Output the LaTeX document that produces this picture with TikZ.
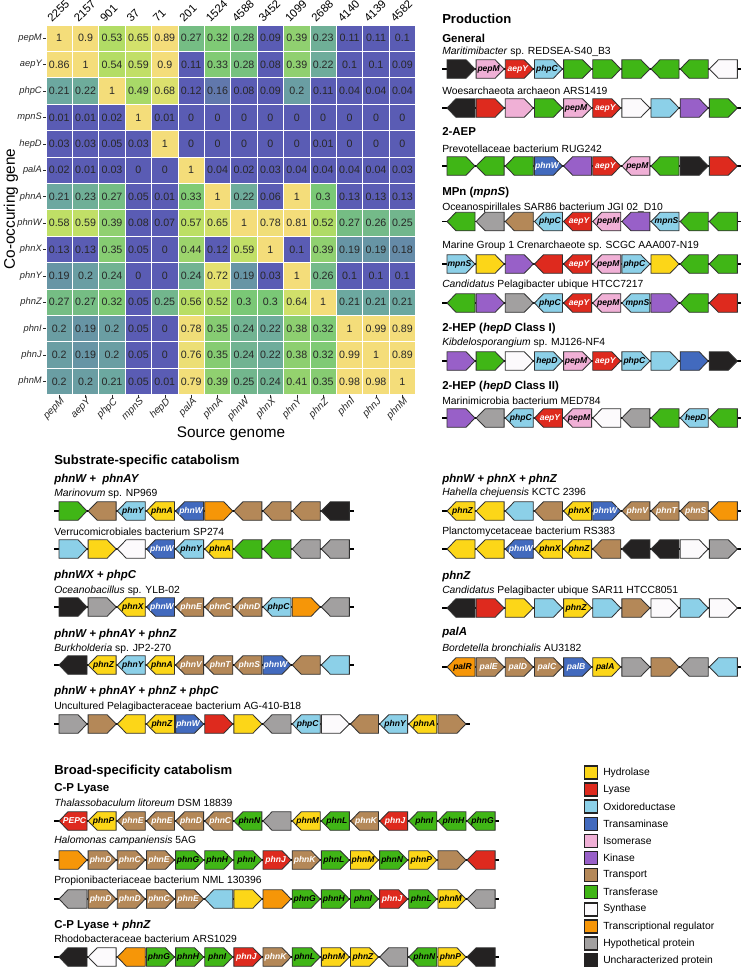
\documentclass[tikz,border=0pt]{standalone}
\usepackage{fontspec}
\setmainfont{Liberation Sans}
\usetikzlibrary{positioning}
\definecolor{hydc}{RGB}{252,214,24}
\definecolor{lysc}{RGB}{222,42,30}
\definecolor{oxrc}{RGB}{140,208,232}
\definecolor{tamc}{RGB}{66,106,190}
\definecolor{isoc}{RGB}{240,176,214}
\definecolor{kinc}{RGB}{152,96,200}
\definecolor{trpc}{RGB}{180,136,88}
\definecolor{trfc}{RGB}{64,182,22}
\definecolor{sync}{RGB}{252,250,252}
\definecolor{regc}{RGB}{246,150,8}
\definecolor{hypc}{RGB}{162,160,160}
\definecolor{uncc}{RGB}{36,34,34}
\definecolor{gline}{RGB}{50,50,50}
\definecolor{numtxt}{RGB}{40,40,40}
\definecolor{hmA}{RGB}{90,92,180}
\definecolor{hmB}{RGB}{108,168,160}
\definecolor{hmC}{RGB}{122,200,118}
\definecolor{hmD}{RGB}{182,222,100}
\definecolor{hmE}{RGB}{225,226,110}
\definecolor{hmF}{RGB}{244,221,122}

\newcommand{\gp}{29.15}
% heatmap colour of a value -> \hmc
\newcommand{\hmpick}[1]{%
  \pgfmathsetmacro{\hmv}{#1}%
  \ifdim\hmv pt<0.13pt \def\hmc{hmA}\else
  \ifdim\hmv pt<0.21pt \pgfmathsetmacro{\hmp}{(\hmv-0.13)/0.08*100}\edef\hmc{hmB!\hmp!hmA}\else
  \ifdim\hmv pt<0.3pt \pgfmathsetmacro{\hmp}{(\hmv-0.21)/0.09*100}\edef\hmc{hmC!\hmp!hmB}\else
  \ifdim\hmv pt<0.55pt \pgfmathsetmacro{\hmp}{(\hmv-0.3)/0.25*100}\edef\hmc{hmD!\hmp!hmC}\else
  \ifdim\hmv pt<0.7pt \pgfmathsetmacro{\hmp}{(\hmv-0.55)/0.15*100}\edef\hmc{hmE!\hmp!hmD}\else
  \ifdim\hmv pt<0.8pt \pgfmathsetmacro{\hmp}{(\hmv-0.7)/0.1*100}\edef\hmc{hmF!\hmp!hmE}\else
  \def\hmc{hmF}\fi\fi\fi\fi\fi\fi}
% one gene cluster: x0, y, number of genes, list dir/colour/label
\newcommand{\genes}[4]{%
  \draw[backbone] ({#1-5},#2) -- ({#1+#3*\gp+3},#2);
  \foreach \gdir/\gcol/\gtxt [count=\gi from 0] in {#4}{
    \begin{scope}[shift={({#1+\gi*\gp+14},#2)}, xscale=\gdir]
      \path[gene,\gcol] (-14,-9.25) -- (5,-9.25) -- (14,0) -- (5,9.25) -- (-14,9.25) -- cycle;
      \node[genelab,\gcol,fill=none] at (-1.5,0) {\gtxt};
    \end{scope}
  }}

\begin{document}
\begin{tikzpicture}[x=0.75pt,y=-0.75pt,
  tit/.style={anchor=west,inner sep=0,font=\fontsize{9.8}{11}\selectfont\bfseries},
  sub/.style={anchor=west,inner sep=0,font=\fontsize{8.6}{10}\selectfont\bfseries},
  spc/.style={anchor=west,inner sep=0,font=\fontsize{7.75}{9}\selectfont},
  gene/.style={draw=gline,line width=0.65pt,line join=miter},
  genelab/.style={inner sep=0,text=black,font=\fontsize{6.4}{7}\selectfont\bfseries\itshape},
  backbone/.style={draw=black,line width=0.9pt},
  hyd/.style={fill=hydc}, lys/.style={fill=lysc,text=white},
  oxr/.style={fill=oxrc}, tam/.style={fill=tamc,text=white},
  iso/.style={fill=isoc}, kin/.style={fill=kinc},
  trp/.style={fill=trpc,text=white}, trf/.style={fill=trfc},
  syn/.style={fill=sync}, reg/.style={fill=regc},
  hyp/.style={fill=hypc}, unc/.style={fill=uncc,text=white},
  cellnum/.style={inner sep=0,text=numtxt,font=\fontsize{8}{9}\selectfont},
  rowlab/.style={anchor=east,inner sep=0,text=numtxt,font=\fontsize{7}{8}\selectfont\itshape},
  collab/.style={anchor=east,rotate=45,inner sep=0,text=numtxt,font=\fontsize{7.5}{8}\selectfont\itshape},
  cntlab/.style={anchor=west,rotate=45,inner sep=0,font=\fontsize{8.5}{10}\selectfont},
  axlab/.style={inner sep=0,font=\fontsize{11.5}{13}\selectfont},
  tickline/.style={draw=numtxt,line width=0.4pt},
  gridline/.style={draw=white,line width=0.7pt},
  legbox/.style={draw=uncc,line width=1.1pt}]
\useasboundingbox (0,0) rectangle (741,967);

% heatmap
\foreach \hn/\hvals [count=\hr from 0] in {
  pepM/{1,0.9,0.53,0.65,0.89,0.27,0.32,0.28,0.09,0.39,0.23,0.11,0.11,0.1},
  aepY/{0.86,1,0.54,0.59,0.9,0.11,0.33,0.28,0.08,0.39,0.22,0.1,0.1,0.09},
  phpC/{0.21,0.22,1,0.49,0.68,0.12,0.16,0.08,0.09,0.2,0.11,0.04,0.04,0.04},
  mpnS/{0.01,0.01,0.02,1,0.01,0,0,0,0,0,0,0,0,0},
  hepD/{0.03,0.03,0.05,0.03,1,0,0,0,0,0,0.01,0,0,0},
  palA/{0.02,0.01,0.03,0,0,1,0.04,0.02,0.03,0.04,0.04,0.04,0.04,0.03},
  phnA/{0.21,0.23,0.27,0.05,0.01,0.33,1,0.22,0.06,1,0.3,0.13,0.13,0.13},
  phnW/{0.58,0.59,0.39,0.08,0.07,0.57,0.65,1,0.78,0.81,0.52,0.27,0.26,0.25},
  phnX/{0.13,0.13,0.35,0.05,0,0.44,0.12,0.59,1,0.1,0.39,0.19,0.19,0.18},
  phnY/{0.19,0.2,0.24,0,0,0.24,0.72,0.19,0.03,1,0.26,0.1,0.1,0.1},
  phnZ/{0.27,0.27,0.32,0.05,0.25,0.56,0.52,0.3,0.3,0.64,1,0.21,0.21,0.21},
  phnI/{0.2,0.19,0.2,0.05,0,0.78,0.35,0.24,0.22,0.38,0.32,1,0.99,0.89},
  phnJ/{0.2,0.19,0.2,0.05,0,0.76,0.35,0.24,0.22,0.38,0.32,0.99,1,0.89},
  phnM/{0.2,0.2,0.21,0.05,0.01,0.79,0.39,0.25,0.24,0.41,0.35,0.98,0.98,1}}{
  \node[rowlab] (row\hr) at (42,{25+(\hr+0.5)*26.4}) {\hn};
  \draw[tickline] (43,{25+(\hr+0.5)*26.4}) -- (46,{25+(\hr+0.5)*26.4});
  \foreach \hv [count=\hc from 0] in \hvals {
    \hmpick{\hv}
    \fill[fill=\hmc] ({46+\hc*26.4},{25+\hr*26.4}) rectangle ++(26.4,26.4);
    \node[cellnum] (cell\hr-\hc) at ({46+(\hc+0.5)*26.4},{25+(\hr+0.5)*26.4}) {\hv};
  }
}
\foreach \k in {0,...,14}{
  \draw[gridline] ({46+\k*26.4},25) -- ++(0,369.6);
  \draw[gridline] (46,{25+\k*26.4}) -- ++(369.6,0);
}
\foreach \hn/\hcnt [count=\hc from 0] in {pepM/2255,aepY/2157,phpC/901,mpnS/37,hepD/71,
  palA/201,phnA/1524,phnW/4588,phnX/3452,phnY/1099,phnZ/2688,phnI/4140,phnJ/4139,phnM/4582}{
  \draw[tickline] ({46+(\hc+0.5)*26.4},394.6) -- ++(0,3);
  \node[collab] (col\hc) at ({46+(\hc+0.5)*26.4+4},400) {\hn};
  \node[cntlab] (cnt\hc) at ({46+(\hc+0.5)*26.4-10},20) {\hcnt};
}
\node[axlab,rotate=90] (yax) at (11,209) {Co-occuring gene};
\node[axlab] (xax) at (231,434) {Source genome};

% production
\node[tit] (prod) at (442,19) {Production};
\node[sub] (gen) at (442,38) {General};
\node[spc] (mar) at (442,52) {\textit{Maritimibacter} sp. REDSEA-S40\_B3};
\genes{447}{69}{10}{1/unc/{},1/iso/pepM,1/lys/aepY,1/oxr/phpC,1/trf/{},1/trf/{},1/trf/{},-1/trf/{},-1/trf/{},-1/syn/{}}
\node[spc] (woe) at (442,91) {Woesarchaeota archaeon ARS1419};
\genes{447}{108}{10}{-1/unc/{},1/lys/{},1/iso/{},1/trf/{},1/iso/pepM,1/lys/aepY,1/syn/{},1/oxr/{},1/kin/{},1/trf/{}}
\node[sub] (aep) at (442,131) {2-AEP};
\node[spc] (pre) at (442,149) {Prevotellaceae bacterium RUG242};
\genes{447}{166}{10}{1/trf/{},-1/trf/{},-1/trf/{},1/tam/phnW,-1/kin/{},1/lys/aepY,-1/iso/pepM,-1/trf/{},1/unc/{},1/lys/{}}
\node[sub] (mpn) at (442,193) {MPn (\textit{mpnS})};
\node[spc] (oce) at (442,208) {Oceanospirillales SAR86 bacterium JGI 02\_D10};
\genes{447}{221.5}{10}{-1/trf/{},-1/hyp/{},-1/trp/{},-1/oxr/phpC,-1/lys/aepY,-1/iso/pepM,-1/kin/{},-1/oxr/mpnS,-1/trf/{},-1/trf/{}}
\node[spc] (mgo) at (442,246) {Marine Group 1 Crenarchaeote sp. SCGC AAA007-N19};
\genes{447}{264}{10}{1/oxr/mpnS,1/hyd/{},1/kin/{},-1/lys/{},-1/lys/aepY,-1/iso/pepM,1/oxr/phpC,1/hyd/{},-1/trf/{},-1/trf/{}}
\node[spc] (cpu) at (442,285) {\textit{Candidatus} Pelagibacter ubique HTCC7217};
\genes{447}{303}{10}{-1/trf/{},1/kin/{},1/hyp/{},-1/oxr/phpC,-1/lys/aepY,-1/iso/pepM,-1/oxr/mpnS,1/kin/{},-1/trf/{},-1/lys/{}}
\node[sub] (hep1) at (442,329) {2-HEP (\textit{hepD} Class I)};
\node[spc] (kib) at (442,343) {\textit{Kibdelosporangium} sp. MJ126-NF4};
\genes{447}{361}{10}{1/kin/{},1/trf/{},1/syn/{},1/oxr/hepD,1/iso/pepM,1/lys/aepY,1/oxr/phpC,1/oxr/{},1/tam/{},1/unc/{}}
\node[sub] (hep2) at (442,387) {2-HEP (\textit{hepD} Class II)};
\node[spc] (mmb) at (442,401) {Marinimicrobia bacterium MED784};
\genes{447}{418}{10}{1/kin/{},-1/hyp/{},-1/oxr/phpC,-1/lys/aepY,-1/iso/pepM,-1/syn/{},-1/hyp/{},-1/trf/{},-1/oxr/hepD,-1/trf/{}}

% substrate-specific catabolism
\node[tit] (ssc) at (54,461) {Substrate-specific catabolism};
\node[sub] (s1) at (54,480) {\itshape phnW +\ \ phnAY};
\node[spc] (mnv) at (54,494) {\textit{Marinovum} sp. NP969};
\genes{59}{511}{10}{1/trf/{},-1/trp/{},-1/oxr/phnY,-1/hyd/phnA,-1/tam/phnW,1/reg/{},-1/trp/{},-1/trp/{},-1/trp/{},-1/unc/{}}
\node[spc] (ver) at (54,532) {Verrucomicrobiales bacterium SP274};
\genes{59}{549}{10}{1/oxr/{},1/hyd/{},-1/syn/{},-1/tam/phnW,-1/oxr/phnY,-1/hyd/phnA,-1/trf/{},-1/trf/{},-1/hyp/{},-1/hyp/{}}
\node[sub] (s2) at (54,576) {\itshape phnWX + phpC};
\node[spc] (ocb) at (54,591) {\textit{Oceanobacillus} sp. YLB-02};
\genes{59}{607}{10}{1/unc/{},1/hyp/{},-1/hyd/phnX,-1/tam/phnW,-1/trp/phnE,-1/trp/phnC,-1/trp/phnD,-1/oxr/phpC,1/reg/{},-1/hyp/{}}
\node[sub] (s3) at (54,635) {\itshape phnW + phnAY + phnZ};
\node[spc] (bur) at (54,649) {\textit{Burkholderia} sp. JP2-270};
\genes{59}{665}{10}{-1/unc/{},-1/hyd/phnZ,-1/oxr/phnY,-1/hyd/phnA,-1/trp/phnV,-1/trp/phnT,-1/trp/phnS,1/tam/phnW,-1/trp/{},-1/oxr/{}}
\node[sub] (s4) at (54,692) {\itshape phnW + phnAY + phnZ + phpC};
\node[spc] (unp) at (54,707) {Uncultured Pelagibacteraceae bacterium AG-410-B18};
\genes{59}{724}{14}{1/hyp/{},1/trp/{},-1/hyd/{},-1/hyd/phnZ,1/tam/phnW,1/lys/{},1/hyd/{},-1/hyp/{},-1/oxr/phpC,1/syn/{},-1/trp/{},-1/oxr/phnY,-1/hyd/phnA,1/trp/{}}

\node[sub] (s5) at (442,480) {\itshape phnW + phnX + phnZ};
\node[spc] (hah) at (442,493) {\textit{Hahella chejuensis} KCTC 2396};
\genes{447}{511}{10}{-1/hyd/phnZ,-1/hyd/{},-1/oxr/{},-1/trp/{},-1/hyd/phnX,1/tam/phnW,-1/trp/phnV,-1/trp/phnT,-1/trp/phnS,-1/reg/{}}
\node[spc] (pla) at (442,532) {Planctomycetaceae bacterium RS383};
\genes{447}{549}{10}{-1/hyd/{},-1/hyd/{},-1/tam/phnW,-1/hyd/phnX,-1/hyd/phnZ,-1/trp/{},-1/unc/{},-1/unc/{},1/syn/{},1/hyp/{}}
\node[sub] (s6) at (442,577) {\itshape phnZ};
\node[spc] (sar) at (442,591) {\textit{Candidatus} Pelagibacter ubique SAR11 HTCC8051};
\genes{447}{608}{10}{-1/unc/{},1/lys/{},1/hyd/{},1/oxr/{},1/hyd/phnZ,1/oxr/{},1/trp/{},1/syn/{},1/oxr/{},1/syn/{}}
\node[sub] (s7) at (442,633) {\itshape palA};
\node[spc] (bor) at (442,648) {\textit{Bordetella bronchialis} AU3182};
\genes{447}{667}{10}{-1/reg/palR,1/trp/palE,1/trp/palD,1/trp/palC,1/tam/palB,1/hyd/palA,1/hyp/{},1/trp/{},-1/hyp/{},-1/oxr/{}}

% broad-specificity catabolism
\node[tit] (bsc) at (54,771) {Broad-specificity catabolism};
\node[sub] (cpl) at (54,789) {C-P Lyase};
\node[spc] (tha) at (54,803) {\textit{Thalassobaculum litoreum} DSM 18839};
\genes{59}{821}{15}{-1/lys/PEPC,-1/hyd/phnP,-1/trp/phnE,-1/trp/phnE,-1/trp/phnD,-1/trp/phnC,-1/trf/phnN,-1/hyp/{},-1/hyd/phnM,-1/trf/phnL,-1/trp/phnK,-1/lys/phnJ,-1/trf/phnI,-1/trf/phnH,-1/trf/phnG}
\node[spc] (hal) at (54,841) {\textit{Halomonas campaniensis} 5AG};
\genes{59}{860}{15}{1/reg/{},1/trp/phnD,1/trp/phnC,1/trp/phnE,1/trf/phnG,1/trf/phnH,1/trf/phnI,1/lys/phnJ,1/trp/phnK,1/trf/phnL,1/hyd/phnM,1/trf/phnN,1/hyd/phnP,1/trp/{},-1/lys/{}}
\node[spc] (pro) at (54,881) {Propionibacteriaceae bacterium NML 130396};
\genes{59}{899}{15}{-1/hyp/{},1/trp/phnD,1/trp/phnD,1/trp/phnC,1/trp/phnE,-1/oxr/{},1/hyd/{},1/reg/{},1/trf/phnG,1/trf/phnH,1/trf/phnI,1/lys/phnJ,1/trf/phnL,1/hyd/phnM,-1/hyp/{}}
\node[sub] (cpz) at (54,926) {C-P Lyase + \textit{phnZ}};
\node[spc] (rho) at (54,939) {Rhodobacteraceae bacterium ARS1029};
\genes{59}{957}{15}{-1/unc/{},-1/syn/{},-1/reg/{},1/trf/phnG,1/trf/phnH,1/trf/phnI,1/lys/phnJ,1/trp/phnK,1/trf/phnL,1/hyd/phnM,1/hyd/phnZ,-1/hyp/{},-1/trf/phnN,1/hyd/phnP,-1/unc/{}}

% legend
\foreach \lc/\lt [count=\li from 0] in {hydc/Hydrolase,lysc/Lyase,oxrc/Oxidoreductase,
  tamc/Transaminase,isoc/Isomerase,kinc/Kinase,trpc/Transport,trfc/Transferase,
  sync/Synthase,regc/Transcriptional regulator,hypc/Hypothetical protein,uncc/Uncharacterized protein}{
  \draw[legbox,fill=\lc] (584.5,{766+\li*17.1}) rectangle ++(13,13);
  \node[spc] (leg\li) at (603,{772.5+\li*17.1}) {\lt};
}
\end{tikzpicture}
\end{document}
